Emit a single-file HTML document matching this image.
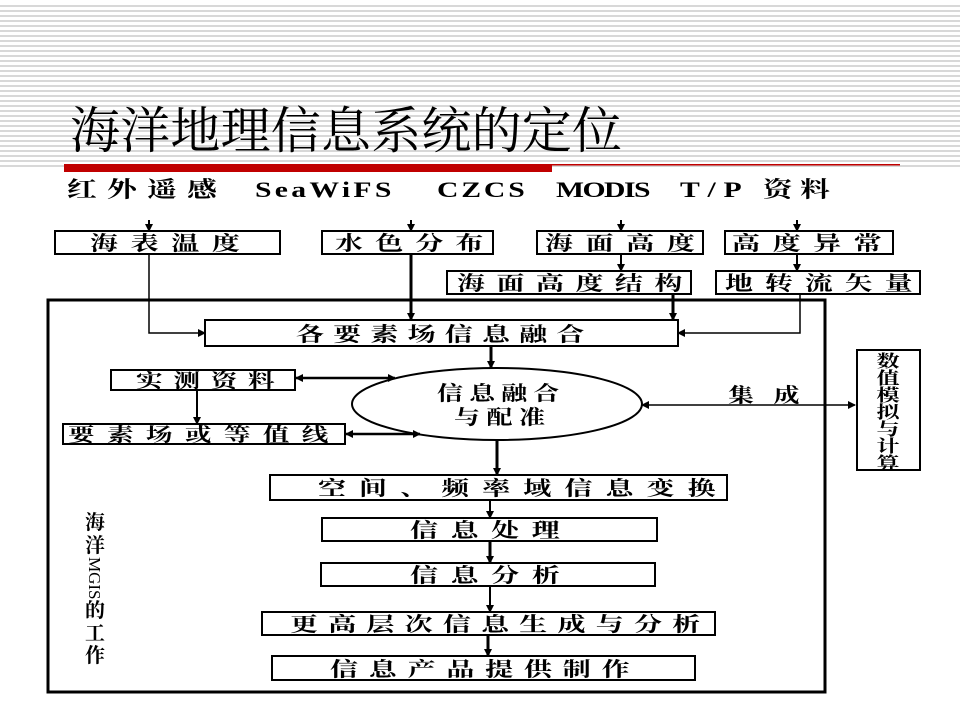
<!DOCTYPE html>
<html><head><meta charset="utf-8"><style>
html,body{margin:0;padding:0;background:#fff;}
body{width:960px;height:720px;overflow:hidden;}
svg text{font-family:"Liberation Serif","Noto Serif CJK SC",serif;}
</style></head><body>
<svg width="960" height="720" viewBox="0 0 960 720" xmlns="http://www.w3.org/2000/svg">
<defs>
<pattern id="st" width="10" height="5" patternUnits="userSpaceOnUse"><rect width="10" height="2" fill="#d8d8d8"/></pattern>
<marker id="a" markerWidth="8" markerHeight="8" refX="7" refY="4" orient="auto" markerUnits="userSpaceOnUse"><path d="M0,0 L8,4 L0,8z" fill="#000"/></marker>
<marker id="b" markerWidth="8" markerHeight="8" refX="1" refY="4" orient="auto" markerUnits="userSpaceOnUse"><path d="M8,0 L0,4 L8,8z" fill="#000"/></marker>
</defs>
<rect x="0" y="5" width="960" height="165" fill="url(#st)"/>
<text x="70" y="148" font-size="50" fill="#000" textLength="552" lengthAdjust="spacing">海洋地理信息系统的定位</text>
<rect x="64" y="164" width="488" height="8" fill="#c00000"/>
<rect x="552" y="164" width="348" height="1.5" fill="#c00000"/>
<g font-size="22" font-weight="bold" fill="#000" lengthAdjust="spacing">
<text transform="translate(67,197) scale(1.35,1)" textLength="111">红外遥感</text>
<text transform="translate(255,197) scale(1.35,1)" textLength="101">SeaWiFS</text>
<text transform="translate(437,197) scale(1.35,1)" textLength="65">CZCS</text>
<text transform="translate(556,197) scale(1.35,1)" textLength="70">MODIS</text>
<text transform="translate(680,197) scale(1.35,1)" textLength="111">T/P 资料</text>
</g>
<g stroke="#000" stroke-width="2" fill="#fff">
<rect x="55" y="231" width="225" height="23"/>
<rect x="322" y="231" width="171" height="23"/>
<rect x="537" y="231" width="166" height="23"/>
<rect x="725" y="231" width="168" height="23"/>
<rect x="447" y="271" width="244" height="23"/>
<rect x="716" y="271" width="204" height="23"/>
<rect x="48" y="300" width="777" height="392" fill="none" stroke-width="3"/>
<rect x="205" y="320" width="473" height="26"/>
<ellipse cx="497" cy="404" rx="145" ry="36"/>
<rect x="111" y="370" width="184" height="20"/>
<rect x="63" y="424" width="282" height="20"/>
<rect x="857" y="350" width="63" height="120"/>
<rect x="270" y="475" width="457" height="25"/>
<rect x="322" y="518" width="335" height="23"/>
<rect x="321" y="563" width="334" height="23"/>
<rect x="262" y="612" width="453" height="23"/>
<rect x="272" y="656" width="423" height="24"/>
</g>
<g stroke="#000" stroke-width="2" fill="none" marker-end="url(#a)">
<line x1="149" y1="220" x2="149" y2="231"/>
<line x1="411" y1="220" x2="411" y2="231"/>
<line x1="621" y1="220" x2="621" y2="231"/>
<line x1="797" y1="220" x2="797" y2="231"/>
<line x1="621" y1="254" x2="621" y2="271"/>
<line x1="797" y1="254" x2="797" y2="271"/>
<polyline points="149,254 149,333 205,333" stroke-width="1.5"/>
<line x1="411" y1="254" x2="411" y2="320" stroke-width="3"/>
<line x1="673" y1="294" x2="673" y2="320" stroke-width="3"/>
<polyline points="800,294 800,333 678,333" stroke-width="1.5"/>
<line x1="491" y1="346" x2="491" y2="368" stroke-width="3"/>
<line x1="197" y1="390" x2="197" y2="424"/>
<line x1="497" y1="440" x2="497" y2="475" stroke-width="3"/>
<line x1="490" y1="500" x2="490" y2="518"/>
<line x1="490" y1="541" x2="490" y2="563" stroke-width="3"/>
<line x1="490" y1="586" x2="490" y2="612"/>
<line x1="488" y1="635" x2="488" y2="656" stroke-width="3"/>
</g>
<g stroke="#000" stroke-width="2.5" marker-end="url(#a)" marker-start="url(#b)">
<line x1="296" y1="378" x2="395" y2="378"/>
<line x1="346" y1="434" x2="420" y2="434"/>
<line x1="642" y1="405" x2="855" y2="405" stroke-width="1.5"/>
</g>
<g font-size="20" font-weight="bold" fill="#000" lengthAdjust="spacing">
<text transform="translate(90,250) scale(1.4,1)" textLength="107">海表温度</text>
<text transform="translate(335,250) scale(1.4,1)" textLength="106">水色分布</text>
<text transform="translate(545,250) scale(1.4,1)" textLength="107">海面高度</text>
<text transform="translate(732,250) scale(1.4,1)" textLength="107">高度异常</text>
<text transform="translate(457,290) scale(1.4,1)" textLength="161">海面高度结构</text>
<text transform="translate(725,290) scale(1.4,1)" textLength="134">地转流矢量</text>
<text transform="translate(296,341) scale(1.4,1)" textLength="206">各要素场信息融合</text>
<text transform="translate(136,387) scale(1.4,1)" textLength="99" font-size="19">实测资料</text>
<text transform="translate(68,441) scale(1.4,1)" textLength="186" font-size="19">要素场或等值线</text>
<text transform="translate(437,400) scale(1.3,1)" textLength="94">信息融合</text>
<text transform="translate(454,424) scale(1.3,1)" textLength="70">与配准</text>
<text transform="translate(728,402) scale(1.3,1)" textLength="55">集成</text>
<text transform="translate(318,495) scale(1.4,1)" textLength="284">空间、频率域信息变换</text>
<text transform="translate(410,537) scale(1.4,1)" textLength="107">信息处理</text>
<text transform="translate(410,582) scale(1.4,1)" textLength="107">信息分析</text>
<text transform="translate(290,631) scale(1.4,1)" textLength="293">更高层次信息生成与分析</text>
<text transform="translate(330,676) scale(1.4,1)" textLength="214">信息产品提供制作</text>
</g>
<g font-size="21" font-weight="bold" fill="#000" text-anchor="middle">
<text transform="translate(888,367) scale(1.1,0.8)">数</text>
<text transform="translate(888,384) scale(1.1,0.8)">值</text>
<text transform="translate(888,401) scale(1.1,0.8)">模</text>
<text transform="translate(888,418) scale(1.1,0.8)">拟</text>
<text transform="translate(888,435) scale(1.1,0.8)">与</text>
<text transform="translate(888,452) scale(1.1,0.8)">计</text>
<text transform="translate(888,469) scale(1.1,0.8)">算</text>
</g>
<g font-size="20" font-weight="bold" fill="#000" text-anchor="middle">
<text x="95" y="529">海</text><text x="95" y="552">洋</text>
<text x="95" y="557" font-size="17" font-weight="normal" transform="rotate(90 95 557)" text-anchor="start" dy="6">MGIS</text>
<text x="95" y="617">的</text><text x="95" y="640">工</text><text x="95" y="662">作</text>
</g>
</svg>
</body></html>
